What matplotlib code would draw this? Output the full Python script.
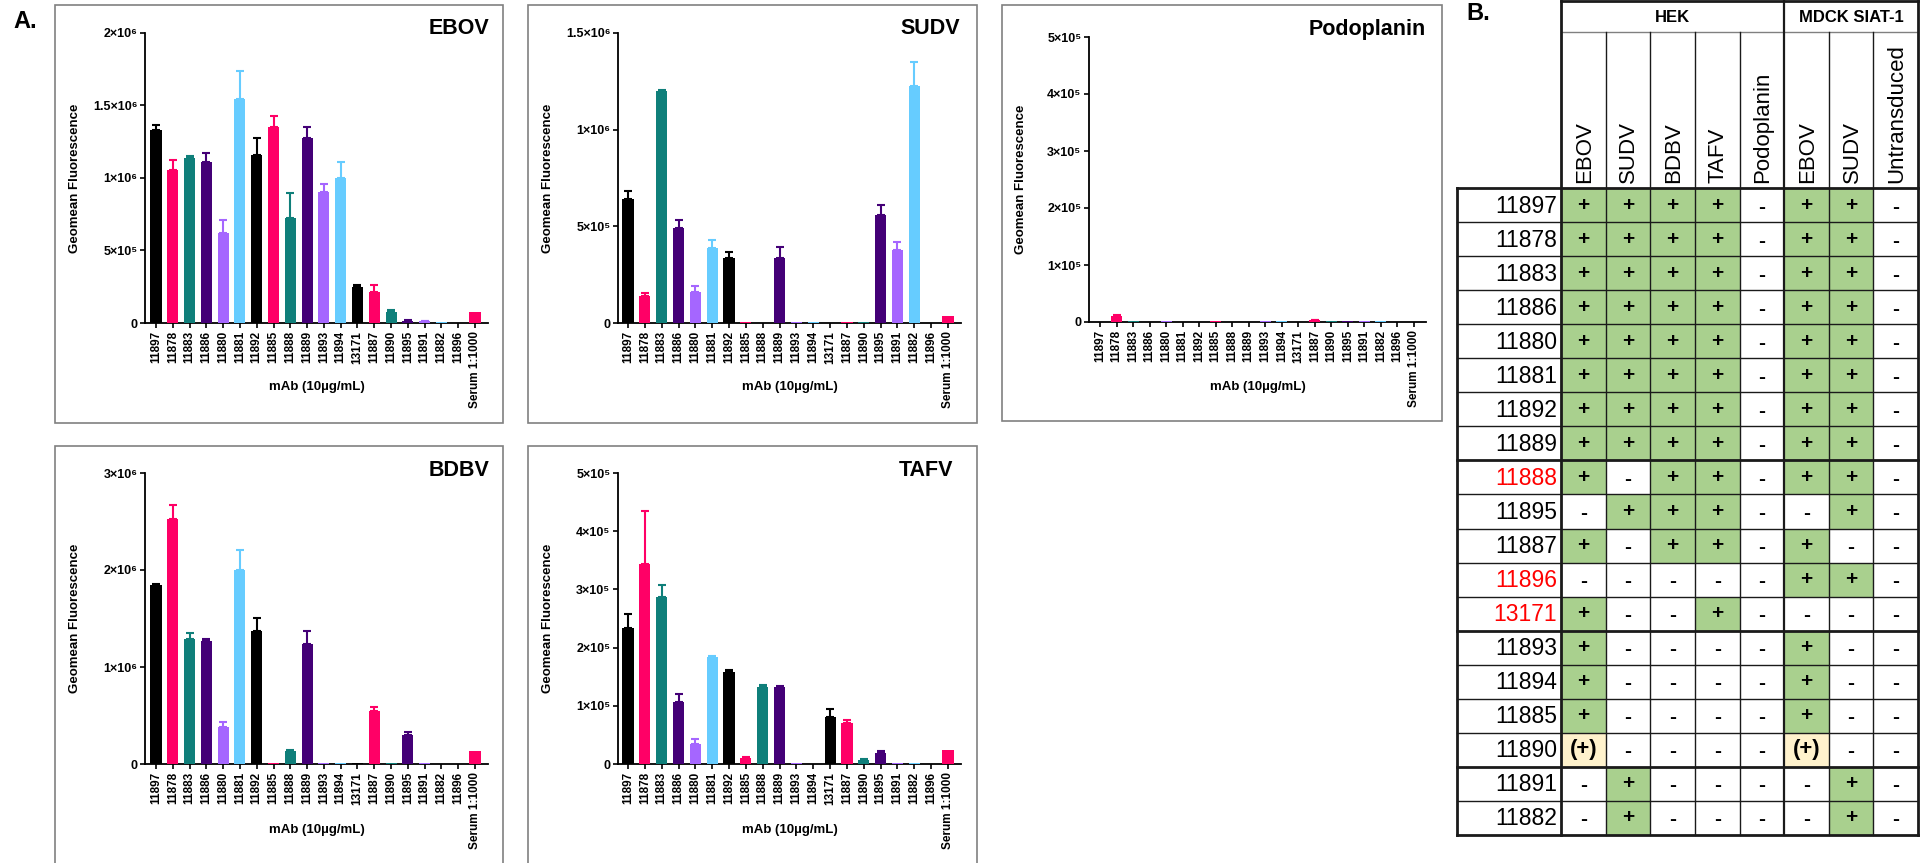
import matplotlib
matplotlib.use("Agg")
import matplotlib.pyplot as plt
from matplotlib.patches import Rectangle
import numpy as np

plt.rcParams['font.family'] = ['Liberation Sans', 'DejaVu Sans']

W, H = 1921, 863

# ── Data ───────────────────────────────────────────────────────────────
mabs = ["11897", "11878", "11883", "11886", "11880", "11881", "11892", "11885",
        "11888", "11889", "11893", "11894", "13171", "11887", "11890", "11895",
        "11891", "11882", "11896", "Serum 1:1000"]
palette = ["#000000", "#ff0066", "#0f7f7a", "#440077", "#a566ff", "#66ccff"]

# geomean fluorescence, and upper error (SD)
ebov_mean = np.array([1.33, 1.055, 1.135, 1.108, 0.619, 1.544, 1.158, 1.349, 0.722, 1.278,
                      0.906, 1.002, 0.248, 0.211, 0.073, 0.014, 0.011, 0.007, 0.001, 0.076]) * 1e6
ebov_err = np.array([0.035, 0.069, 0.016, 0.062, 0.092, 0.195, 0.12, 0.078, 0.177, 0.073,
                     0.05, 0.108, 0.016, 0.053, 0.019, 0.004, 0.002, 0, 0, 0]) * 1e6

sudv_mean = np.array([0.642, 0.141, 1.201, 0.49, 0.16, 0.387, 0.335, 0.007, 0.0, 0.335,
                      0.003, 0.004, 0.0, 0.005, 0.006, 0.559, 0.378, 1.228, 0.0, 0.038]) * 1e6
sudv_err = np.array([0.041, 0.014, 0.003, 0.043, 0.029, 0.04, 0.031, 0, 0, 0.057,
                     0, 0, 0, 0, 0, 0.05, 0.043, 0.124, 0, 0]) * 1e6

podo_mean = np.array([0.0, 0.1, 0.01, 0.0, 0.01, 0.0, 0.005, 0.01, 0.0, 0.0,
                      0.01, 0.01, 0.0, 0.03, 0.01, 0.01, 0.01, 0.01, 0.0, 0.0]) * 1e5
podo_err = np.array([0, 0.03, 0, 0, 0, 0, 0, 0, 0, 0,
                     0, 0, 0, 0.01, 0, 0, 0, 0, 0, 0]) * 1e5

bdbv_mean = np.array([1.844, 2.528, 1.287, 1.269, 0.382, 1.995, 1.373, 0.007, 0.134, 1.242,
                      0.01, 0.01, 0.014, 0.547, 0.01, 0.296, 0.01, 0.0, 0.0, 0.138]) * 1e6
bdbv_err = np.array([0.014, 0.145, 0.068, 0.021, 0.055, 0.207, 0.137, 0, 0.01, 0.134,
                     0, 0, 0, 0.038, 0, 0.031, 0, 0, 0, 0]) * 1e6

tafv_mean = np.array([2.345, 3.43, 2.878, 1.061, 0.344, 1.835, 1.588, 0.103, 1.33, 1.33,
                      0.023, 0.0, 0.803, 0.70, 0.069, 0.183, 0.017, 0.017, 0.0, 0.241]) * 1e5
tafv_err = np.array([0.23, 0.91, 0.19, 0.137, 0.086, 0.029, 0.035, 0.012, 0.029, 0.018,
                     0, 0, 0.137, 0.057, 0.017, 0.041, 0, 0, 0, 0]) * 1e5

ticks_ebov = [0, 5e5, 1e6, 1.5e6, 2e6]
labels_ebov = ["0", "5×10⁵", "1×10⁶", "1.5×10⁶", "2×10⁶"]
ticks_sudv = [0, 5e5, 1e6, 1.5e6]
labels_sudv = ["0", "5×10⁵", "1×10⁶", "1.5×10⁶"]
ticks_podo = [0, 1e5, 2e5, 3e5, 4e5, 5e5]
labels_podo = ["0", "1×10⁵", "2×10⁵", "3×10⁵", "4×10⁵", "5×10⁵"]
ticks_bdbv = [0, 1e6, 2e6, 3e6]
labels_bdbv = ["0", "1×10⁶", "2×10⁶", "3×10⁶"]
ticks_tafv = ticks_podo
labels_tafv = labels_podo

# table B
tbl_cols = ["EBOV", "SUDV", "BDBV", "TAFV", "Podoplanin", "EBOV", "SUDV", "Untransduced"]
tbl_rows = ["11897", "11878", "11883", "11886", "11880", "11881", "11892", "11889",
            "11888", "11895", "11887", "11896", "13171", "11893", "11894", "11885",
            "11890", "11891", "11882"]
tbl_red = ["11888", "11896", "13171"]
tbl_vals = [
    "++++-++-", "++++-++-", "++++-++-", "++++-++-", "++++-++-", "++++-++-",
    "++++-++-", "++++-++-", "+-++-++-", "-+++--+-", "+-++-+--", "-----++-",
    "+--+----", "+----+--", "+----+--", "+----+--", "p----p--", "-+----+-",
    "-+----+-",
]
tbl_groups = [("HEK", 0, 5), ("MDCK SIAT-1", 5, 8)]
tbl_breaks = [0, 8, 13, 17, 19]   # thick separators between row groups

# ── Figure ─────────────────────────────────────────────────────────────
fig = plt.figure(figsize=(W / 100, H / 100), dpi=100)


def add_px_axes(l, t, r, b):
    return fig.add_axes([l / W, 1 - b / H, (r - l) / W, (b - t) / H])


# panel layout in pixels: axes box, first/last bar centre, box, title, labels
panels = [
    ("EBOV", ebov_mean, ebov_err, ticks_ebov, labels_ebov, (145, 33, 488, 323), (156, 475),
     (55, 5, 503, 423), (489, 29), 75, 387),
    ("SUDV", sudv_mean, sudv_err, ticks_sudv, labels_sudv, (618, 33, 961, 323), (628, 948),
     (528, 5, 977, 423), (960, 29), 548, 387),
    ("Podoplanin", podo_mean, podo_err, ticks_podo, labels_podo, (1089, 37, 1426, 322), (1100, 1414),
     (1002, 5, 1442, 421), (1426, 29), 1021, 387),
    ("BDBV", bdbv_mean, bdbv_err, ticks_bdbv, labels_bdbv, (145, 473, 488, 764), (156, 475),
     (55, 446, 503, 880), (489, 470), 75, 830),
    ("TAFV", tafv_mean, tafv_err, ticks_tafv, labels_tafv, (618, 473, 961, 764), (628, 948),
     (528, 446, 977, 880), (953, 470), 548, 830),
]

colors = [palette[i % len(palette)] for i in range(len(mabs))]
x = np.arange(len(mabs))

for name, mean, err, ticks, tlabels, (l, t, r, b), (first, last), box, tpos, ylx, xly in panels:
    ax = add_px_axes(l, t, r, b)
    step = (last - first) / (len(mabs) - 1)
    ax.set_xlim(-(first - l) / step, len(mabs) - 1 + (r - last) / step)
    ax.set_ylim(0, ticks[-1])
    ax.bar(x, mean, width=0.66, color=colors, zorder=3)
    for i in range(len(mabs)):
        if err[i] > 0:
            ax.errorbar(x[i], mean[i], yerr=[[0], [err[i]]], fmt="none", ecolor=colors[i],
                        elinewidth=1.5, capsize=3, capthick=1.5, zorder=2)
    ax.set_xticks(x)
    ax.set_xticklabels(mabs, rotation=90, fontsize=8.5, fontweight="bold")
    ax.set_yticks(ticks)
    ax.set_yticklabels(tlabels, fontsize=9, fontweight="bold")
    ax.tick_params(axis="both", length=3.5, width=1.2, pad=2, direction="out")
    for s in ("top", "right"):
        ax.spines[s].set_visible(False)
    for s in ("left", "bottom"):
        ax.spines[s].set_linewidth(1.3)

    fig.text(tpos[0] / W, 1 - tpos[1] / H, name, ha="right", va="center",
             fontsize=15.5, fontweight="bold")
    fig.text(ylx / W, 1 - (t + b) / 2 / H, "Geomean Fluorescence", rotation=90,
             ha="center", va="center", fontsize=9.5, fontweight="bold")
    fig.text((l + r) / 2 / W, 1 - xly / H, "mAb (10µg/mL)", ha="center", va="center",
             fontsize=9.5, fontweight="bold")
    fig.patches.append(Rectangle((box[0] / W, 1 - box[3] / H), (box[2] - box[0]) / W,
                                 (box[3] - box[1]) / H, transform=fig.transFigure,
                                 fill=False, edgecolor="#808080", linewidth=1.2))

fig.text(13 / W, 1 - 22 / H, "A.", ha="left", va="center", fontsize=17, fontweight="bold")
fig.text(1466 / W, 1 - 14 / H, "B.", ha="left", va="center", fontsize=17, fontweight="bold")

# ── Table B ────────────────────────────────────────────────────────────
tx = add_px_axes(0, 0, W, H)
tx.set_xlim(0, W)
tx.set_ylim(H, 0)
tx.axis("off")

lab_l, col0, col_r = 1457, 1561, 1918
cw = (col_r - col0) / len(tbl_cols)
y_top, y_h1, y_h2, y_bot = 1, 32, 188, 835
rh = (y_bot - y_h2) / len(tbl_rows)
green, yellow = "#a9d08e", "#fff2cc"

for i, (row, vals) in enumerate(zip(tbl_rows, tbl_vals)):
    yc = y_h2 + (i + 0.5) * rh
    tx.text(1557, yc + 1, row, ha="right", va="center", fontsize=16.5,
            color="#ff0000" if row in tbl_red else "#000000")
    for j, v in enumerate(vals):
        xl = col0 + j * cw
        if v == "+":
            tx.add_patch(Rectangle((xl, y_h2 + i * rh), cw, rh, facecolor=green, edgecolor="none"))
            tx.text(xl + cw / 2, yc, "+", ha="center", va="center", fontsize=15, fontweight="bold")
        elif v == "p":
            tx.add_patch(Rectangle((xl, y_h2 + i * rh), cw, rh, facecolor=yellow, edgecolor="none"))
            tx.text(xl + cw / 2, yc, "(+)", ha="center", va="center", fontsize=16, fontweight="bold")
        else:
            tx.text(xl + cw / 2, yc + 2, "-", ha="center", va="center", fontsize=15, fontweight="bold")

for j, c in enumerate(tbl_cols):
    tx.text(col0 + (j + 0.5) * cw + 1, 183, c, rotation=90, ha="center", va="bottom", fontsize=16)
for g, a, b in tbl_groups:
    tx.text(col0 + (a + b) / 2 * cw, (y_top + y_h1) / 2 + 1, g, ha="center", va="center",
            fontsize=12, fontweight="bold")

thick, thin, lc = 2.0, 1.0, "#1a1a1a"
for i in range(len(tbl_rows) + 1):
    yy = y_h2 + i * rh
    lw = thick if i in tbl_breaks else thin
    tx.plot([lab_l, col_r], [yy, yy], color=lc, lw=lw, solid_capstyle="projecting")
tx.plot([col0, col_r], [y_top, y_top], color=lc, lw=thick)
tx.plot([col0, col_r], [y_h1, y_h1], color="#808080", lw=thin)
tx.plot([lab_l, lab_l], [y_h2, y_bot], color=lc, lw=thick)
tx.plot([col0, col0], [y_top, y_bot], color=lc, lw=thick)
tx.plot([col_r, col_r], [y_top, y_bot], color=lc, lw=thick)
for j in range(1, len(tbl_cols)):
    xx = col0 + j * cw
    if j == 5:
        tx.plot([xx, xx], [y_top, y_bot], color=lc, lw=1.6)
    else:
        tx.plot([xx, xx], [y_h1, y_bot], color=lc, lw=thin)

plt.savefig("out.png", dpi=100)
